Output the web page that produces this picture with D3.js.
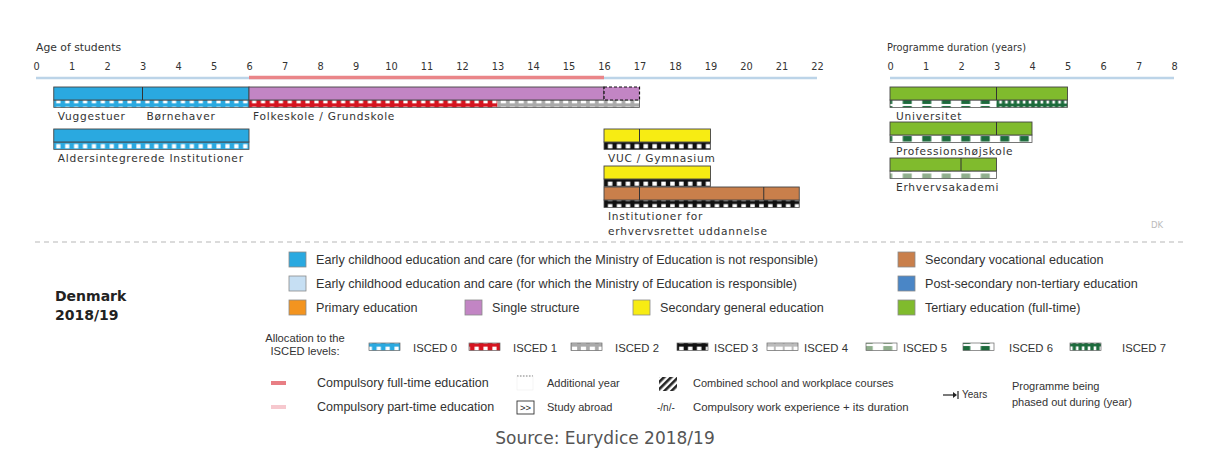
<!DOCTYPE html>
<html><head><meta charset="utf-8">
<script src="https://cdn.jsdelivr.net/npm/d3@7"></script>
<style>body{margin:0;background:#fff}svg{display:block}</style>
</head><body><svg id="c" width="1209" height="450"></svg>
<script>
// ---------- data ----------
const ageTicks = [0,1,2,3,4,5,6,7,8,9,10,11,12,13,14,15,16,17,18,19,20,21,22];
const durTicks = [0,1,2,3,4,5,6,7,8];
const compulsory = [6,16];
// age-axis programmes
const ageBars = [
  {lane:"L1", type:"ecec", start:0.5, end:6, divs:[3], isced:[[0.5,6,"i0"]]},
  {lane:"L1", type:"single", start:6, end:16, extra:17, divs:[], isced:[[6,13,"i1"],[13,17,"i2"]]},
  {lane:"L2", type:"ecec", start:0.5, end:6, divs:[], isced:[[0.5,6,"i0"]]},
  {lane:"L2", type:"secgen", start:16, end:19, divs:[17], isced:[[16,19,"i3"]]},
  {lane:"L3", type:"secgen", start:16, end:19, divs:[], isced:[[16,19,"i3"]]},
  {lane:"L4", type:"secvoc", start:16, end:21.5, divs:[17,20.5], isced:[[16,21.5,"i3"]]}
];
const ageLabels = [
  {lane:"L1", at:0.5, lines:["Vuggestuer"]},
  {lane:"L1", at:3, lines:["Børnehaver"]},
  {lane:"L1", at:6, lines:["Folkeskole / Grundskole"]},
  {lane:"L2", at:0.5, lines:["Aldersintegrerede Institutioner"]},
  {lane:"L2", at:16, lines:["VUC / Gymnasium"]},
  {lane:"L4", at:16, lines:["Institutioner for","erhvervsrettet uddannelse"]}
];
// duration-axis programmes
const durBars = [
  {lane:"R1", name:"Universitet", type:"tertiary", start:0, end:5, divs:[3], isced:[[0,3,"i6"],[3,5,"i7"]]},
  {lane:"R2", name:"Professionshøjskole", type:"tertiary", start:0, end:4, divs:[3], isced:[[0,4,"i6"]]},
  {lane:"R3", name:"Erhvervsakademi", type:"tertiary", start:0, end:3, divs:[2], isced:[[0,3,"i5"]]}
];
const colourKeys = [
  {type:"ecec", text:"Early childhood education and care (for which the Ministry of Education is not responsible)"},
  {type:"ecec2", text:"Early childhood education and care (for which the Ministry of Education is responsible)"},
  {type:"primary", text:"Primary education"},
  {type:"single", text:"Single structure"},
  {type:"secgen", text:"Secondary general education"},
  {type:"secvoc", text:"Secondary vocational education"},
  {type:"postsec", text:"Post-secondary non-tertiary education"},
  {type:"tertiary", text:"Tertiary education (full-time)"}
];
const iscedKeys = ["i0","i1","i2","i3","i4","i5","i6","i7"];
const iscedNames = ["ISCED 0","ISCED 1","ISCED 2","ISCED 3","ISCED 4","ISCED 5","ISCED 6","ISCED 7"];

// ---------- styles ----------
const fills = {ecec:"#2aa9e0", ecec2:"#c6dff3", primary:"#f3941f", single:"#c285c4",
  secgen:"#f7ec13", secvoc:"#c97f4b", postsec:"#4a86c6", tertiary:"#80bb2d"};
const patt = {
  i0:{bg:"#2aa9e0", fg:"#ffffff", p:8.9, w:4.2, m:1.6},
  i1:{bg:"#d5141f", fg:"#ffffff", p:8.9, w:4.2, m:1.6},
  i2:{bg:"#a9a9a9", fg:"#ffffff", p:8.9, w:5.2, m:1.6},
  i3:{bg:"#111111", fg:"#ffffff", p:8.9, w:4.5, m:1.6},
  i4:{bg:"#bbbbbb", fg:"#ffffff", p:8.9, w:7, m:1.6},
  i5:{bg:"#ffffff", fg:"#8fae8c", p:19.5, w:9, m:1},
  i6:{bg:"#ffffff", fg:"#1c6b3c", p:19.5, w:9, m:1},
  i7:{bg:"#1c6b3c", fg:"#ffffff", p:5.9, w:2.6, m:1.4}
};

const svg = d3.select("#c");
const x = d3.scaleLinear().domain([0,22]).range([36,817]);
const xd = d3.scaleLinear().domain([0,8]).range([890,1174]);
const laneY = d3.scaleOrdinal().domain(["L1","L2","L3","L4","R1","R2","R3"]).range([87,129,166,187,87,122,158]);
const FILL_H = 13, STRIP_H = 7.5;

// patterns
const defs = svg.append("defs");
Object.entries(patt).forEach(([k,v])=>{
  const pt = defs.append("pattern").attr("id","p_"+k).attr("patternUnits","userSpaceOnUse")
    .attr("width",v.p).attr("height",STRIP_H).attr("x",0.5);
  pt.append("rect").attr("width",v.p).attr("height",STRIP_H).attr("fill",v.bg);
  pt.append("rect").attr("x",(v.p-v.w)/2).attr("y",v.m).attr("width",v.w).attr("height",STRIP_H-2*v.m).attr("fill",v.fg);
});
const hatch = defs.append("pattern").attr("id","hatch").attr("patternUnits","userSpaceOnUse")
  .attr("width",5).attr("height",5).attr("patternTransform","rotate(45)");
hatch.append("rect").attr("width",2.6).attr("height",5).attr("fill","#222");

// ---------- axes ----------
function drawAxis(scale, ticks, title, tx, fs){
  svg.append("text").attr("x",tx).attr("y",51).text(title)
    .attr("font-family","'DejaVu Sans'").attr("font-size",fs).attr("fill","#333");
  const g = svg.append("g").attr("transform","translate(0,73)")
    .call(d3.axisTop(scale).tickValues(ticks).tickSize(0).tickPadding(3).tickFormat(d3.format("d")));
  g.select(".domain").remove();
  g.selectAll("text").attr("font-family","'DejaVu Sans'").attr("font-size",9.8).attr("fill","#333");
  svg.append("line").attr("x1",scale.range()[0]).attr("x2",scale.range()[1]).attr("y1",78).attr("y2",78)
    .attr("stroke","#bcd4e8").attr("stroke-width",2.5);
}
drawAxis(x, ageTicks, "Age of students", 36, 10.8);
drawAxis(xd, durTicks, "Programme duration (years)", 887, 9.8);
svg.append("line").attr("x1",x(compulsory[0])).attr("x2",x(compulsory[1])).attr("y1",77.5).attr("y2",77.5)
  .attr("stroke","#ea8589").attr("stroke-width",3.5);

// ---------- bars ----------
function drawBars(data, scale){
  const g = svg.append("g");
  data.forEach(b=>{
    const y0 = laneY(b.lane);
    const endAll = b.extra || b.end;
    b.isced.forEach(s=>{
      g.append("rect").attr("x",scale(s[0])).attr("y",y0+FILL_H).attr("width",scale(s[1])-scale(s[0]))
        .attr("height",STRIP_H).attr("fill","url(#p_"+s[2]+")");
    });
    g.append("rect").attr("x",scale(b.start)).attr("y",y0+FILL_H).attr("width",scale(endAll)-scale(b.start))
      .attr("height",STRIP_H).attr("fill","none").attr("stroke","#555").attr("stroke-width",0.8);
    g.append("rect").attr("x",scale(b.start)).attr("y",y0).attr("width",scale(b.end)-scale(b.start))
      .attr("height",FILL_H).attr("fill",fills[b.type]).attr("stroke","#444").attr("stroke-width",0.9);
    if(b.extra){
      g.append("rect").attr("x",scale(b.end)).attr("y",y0).attr("width",scale(b.extra)-scale(b.end))
        .attr("height",FILL_H).attr("fill",fills[b.type]).attr("stroke","#111").attr("stroke-width",1.2)
        .attr("stroke-dasharray","3,2");
    }
    b.divs.forEach(d=>{
      g.append("line").attr("x1",scale(d)).attr("x2",scale(d)).attr("y1",y0).attr("y2",y0+FILL_H)
        .attr("stroke","#333").attr("stroke-width",1);
    });
  });
}
drawBars(ageBars, x);
drawBars(durBars, xd);

const lblFont = "'DejaVu Sans'";
ageLabels.forEach(l=>{
  const t = svg.append("text").attr("font-family",lblFont).attr("font-size",10.6)
    .attr("letter-spacing",0.75).attr("fill","#333");
  l.lines.forEach((s,i)=>t.append("tspan").attr("x",x(l.at)+4).attr("y",laneY(l.lane)+33+i*14.5).text(s));
});
durBars.forEach(b=>{
  svg.append("text").attr("x",xd(b.start)+6).attr("y",laneY(b.lane)+33).text(b.name)
    .attr("font-family",lblFont).attr("font-size",10.6).attr("letter-spacing",0.75).attr("fill","#333");
});
svg.append("text").attr("x",1151).attr("y",228).text("DK").attr("font-family",lblFont)
  .attr("font-size",8.5).attr("fill","#bbb");

// separator
svg.append("line").attr("x1",35).attr("x2",1186).attr("y1",242).attr("y2",242)
  .attr("stroke","#d0d0d0").attr("stroke-width",1.5).attr("stroke-dasharray","5,4");

// ---------- legend ----------
const lf = "'Liberation Sans', Arial, sans-serif";
const cn = svg.append("text").attr("font-family","'Comic Sans MS','DejaVu Sans'").attr("font-weight","bold")
  .attr("font-size",14).attr("fill","#222");
cn.append("tspan").attr("x",55).attr("y",301).text("Denmark");
cn.append("tspan").attr("x",55).attr("y",320).text("2018/19");

const keyPos = [[289,259],[289,283],[289,307],[465,307],[633,307],[898,259],[898,283],[898,307]];
colourKeys.forEach((k,i)=>{
  const [kx,ky] = keyPos[i];
  svg.append("rect").attr("x",kx).attr("y",ky-7).attr("width",17).attr("height",15)
    .attr("fill",fills[k.type]).attr("stroke","#8a8a8a").attr("stroke-width",0.8);
  svg.append("text").attr("x",kx+27).attr("y",ky+4.5).text(k.text)
    .attr("font-family",lf).attr("font-size",12.6).attr("fill","#333");
});

const al = svg.append("text").attr("font-family",lf).attr("font-size",11.2).attr("fill","#333").attr("text-anchor","middle");
al.append("tspan").attr("x",305).attr("y",342).text("Allocation to the");
al.append("tspan").attr("x",305).attr("y",355).text("ISCED levels:");
const iconX = [369,469,571,677,767,866,963,1070];
const txtX = [413,513,615,714,804,903,1009,1122];
iscedKeys.forEach((k,i)=>{
  svg.append("rect").attr("x",iconX[i]).attr("y",343).attr("width",31).attr("height",STRIP_H)
    .attr("fill","url(#p_"+k+")").attr("stroke","#666").attr("stroke-width",0.7);
  svg.append("text").attr("x",txtX[i]).attr("y",351.5).text(iscedNames[i])
    .attr("font-family",lf).attr("font-size",11.3).attr("fill","#333");
});

// bottom symbols
svg.append("rect").attr("x",271).attr("y",381).attr("width",15).attr("height",4).attr("fill","#e87e84");
svg.append("rect").attr("x",271).attr("y",405).attr("width",15).attr("height",4).attr("fill","#f6c8ce");
const bt = [
  [317,387,"Compulsory full-time education",12.5],[317,411,"Compulsory part-time education",12.5],
  [547,387,"Additional year",11],[547,411,"Study abroad",11],
  [693,387,"Combined school and workplace courses",11],[693,411,"Compulsory work experience + its duration",11.4],
  [1012,390,"Programme being",11],[1012,406,"phased out during (year)",11]
];
bt.forEach(d=>svg.append("text").attr("x",d[0]).attr("y",d[1]).text(d[2])
  .attr("font-family",lf).attr("font-size",d[3]).attr("fill","#333"));
svg.append("line").attr("x1",517).attr("x2",533).attr("y1",376).attr("y2",376)
  .attr("stroke","#555").attr("stroke-width",1).attr("stroke-dasharray","1.5,1.5");
svg.append("rect").attr("x",517).attr("y",376).attr("width",16).attr("height",14).attr("fill","none")
  .attr("stroke","#eee").attr("stroke-width",0.6);
svg.append("rect").attr("x",517).attr("y",401).attr("width",17).attr("height",13).attr("fill","#fff")
  .attr("stroke","#333").attr("stroke-width",0.9);
svg.append("text").attr("x",525.5).attr("y",411).attr("text-anchor","middle").text(">>")
  .attr("font-family",lf).attr("font-size",9.5).attr("fill","#222");
svg.append("rect").attr("x",659).attr("y",377).attr("width",18).attr("height",14).attr("fill","url(#hatch)");
svg.append("text").attr("x",657).attr("y",411).text("-/n/-").attr("font-family",lf).attr("font-size",10).attr("fill","#333");
svg.append("line").attr("x1",943).attr("x2",955).attr("y1",395).attr("y2",395).attr("stroke","#222").attr("stroke-width",1.2);
svg.append("path").attr("d","M953,392 L957,395 L953,398 Z").attr("fill","#222");
svg.append("line").attr("x1",958).attr("x2",958).attr("y1",391).attr("y2",399).attr("stroke","#222").attr("stroke-width",1.2);
svg.append("text").attr("x",962).attr("y",398).text("Years").attr("font-family",lf).attr("font-size",10).attr("fill","#333");

svg.append("text").attr("x",605).attr("y",444).attr("text-anchor","middle").text("Source: Eurydice 2018/19")
  .attr("font-family","'DejaVu Sans'").attr("font-size",17).attr("fill","#555");
</script></body></html>
